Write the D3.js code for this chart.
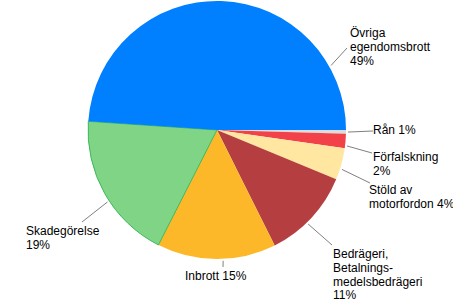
<!DOCTYPE html>
<html>
<head>
  <meta charset="UTF-8">
  <title>Egendomsbrott</title>
  <style>
    body { margin: 0; background: #fff; }
    svg text { font-family: Arial, "Liberation Sans", sans-serif; font-size: 12px; fill: #000; }
  </style>
</head>
<body>
<svg></svg>
<script src="https://d3js.org/d3.v7.min.js"></script>
<script>
    let width = 453, height = 303;

    // Slices, clockwise from 3 o'clock
    var categories = ["Rån", "Förfalskning", "Stöld av motorfordon", "Bedrägeri, Betalningsmedelsbedrägeri", "Inbrott", "Skadegörelse", "Övriga egendomsbrott"];
    var shares = [0.45, 1.8, 4.0, 11.4, 14.9, 18.6, 49.0];
    var labels = [
        ["Rån 1%"],
        ["Förfalskning", "2%"],
        ["Stöld av", "motorfordon 4%"],
        ["Bedrägeri,", "Betalnings-", "medelsbedrägeri", "11%"],
        ["Inbrott 15%"],
        ["Skadegörelse", "19%"],
        ["Övriga", "egendomsbrott", "49%"]
    ];
    var colors = ["#dcdcdc", "#f24149", "#ffe6a1", "#b53f40", "#fdb829", "#7fd585", "#0080ff"];

    let svg = d3.select("svg").attr("width", width).attr("height", height);

    let cx = 217, cy = 130, r = 129;

    // start at east, go clockwise
    var pie = d3.pie().sort(null)
        .startAngle(Math.PI / 2)
        .endAngle(Math.PI / 2 + 2 * Math.PI)
        .value(d => d);

    var arc = d3.arc().innerRadius(0).outerRadius(r);

    let g = svg.append("g").attr("transform", "translate(" + cx + "," + cy + ")");

    var arcs = pie(shares);

    g.selectAll("path")
        .data(arcs)
        .enter()
        .append("path")
        .attr("d", arc)
        .attr("fill", (d, i) => colors[i])
        .attr("stroke", (d, i) => i == 5 ? "#3cb95a" : "none")
        .attr("stroke-width", 1);

    // label placement: angle (deg) where the leader leaves the pie, leader end, text anchor point
    var lab = [
        {ang: 90.9, b: [156, 1], t: [156, 4]},
        {ang: 97, b: [155, 23], t: [156, 31]},
        {ang: 107.5, b: [153, 53], t: [152, 64]},
        {ang: 135.9, b: [115, 115], t: [116, 128]},
        {ang: 177.3, b: [6, 137], t: [-32, 150]},
        {ang: 236.7, b: [-135, 92], t: [-191, 105]},
        {ang: 60.5, b: [130, -82], t: [133, -93]}
    ];

    arcs.forEach((d, i) => {
        var a = lab[i].ang * Math.PI / 180;
        var x0 = Math.sin(a) * (r + 2), y0 = -Math.cos(a) * (r + 2);
        g.append("line")
            .attr("x1", x0).attr("y1", y0)
            .attr("x2", lab[i].b[0]).attr("y2", lab[i].b[1])
            .attr("stroke", "#808080")
            .attr("stroke-width", 1);
        var text = g.append("text")
            .attr("x", lab[i].t[0])
            .attr("y", lab[i].t[1]);
        labels[i].forEach((line, j) => {
            text.append("tspan")
                .attr("x", lab[i].t[0])
                .attr("dy", j == 0 ? 0 : 13.8)
                .text(line);
        });
    });
</script>
</body>
</html>
